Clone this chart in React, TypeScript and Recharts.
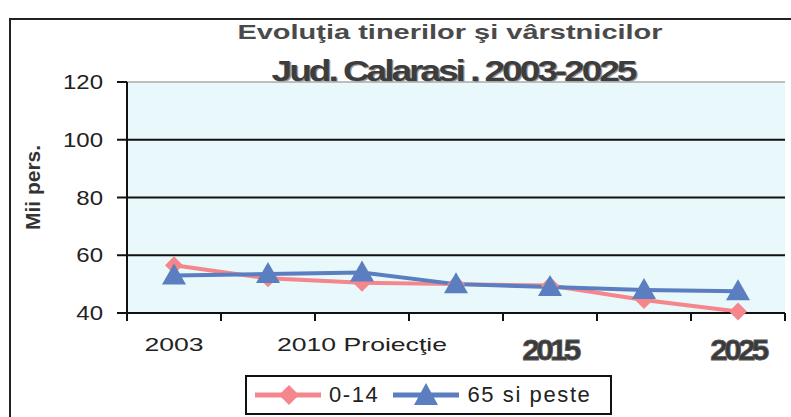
import React from "react";
import {
  LineChart,
  Line,
  XAxis,
  YAxis,
  CartesianGrid,
  Legend,
  ReferenceLine,
} from "recharts";

// tick labels of the x axis (only every other category carries a label)
const categories = ["2003", "", "2010 Proiecţie", "", "2015", "", "2025"];
const boldLabels = ["2015", "2025"];

// thousands of persons
const young = [56.5, 52, 50.5, 50, 49.5, 44.5, 40.5]; // 0-14
const old = [53, 53.5, 54, 50, 49, 48, 47.5]; // 65 si peste

const yTicks = [40, 60, 80, 100, 120];

const data = categories.map((c, i) => ({
  idx: `c${i}`,
  label: c,
  "0-14": young[i],
  "65 si peste": old[i],
}));

const FONT = '"Liberation Sans", Arial, sans-serif';
const PINK = "#f4868c";
const BLUE = "#5b7ec0";

const Diamond = (props: any) => {
  const { cx, cy } = props;
  if (cx == null || cy == null) return null;
  const r = 9;
  return (
    <path
      d={`M${cx},${cy - r} L${cx + r},${cy} L${cx},${cy + r} L${cx - r},${cy} Z`}
      fill={PINK}
    />
  );
};

const Triangle = (props: any) => {
  const { cx, cy } = props;
  if (cx == null || cy == null) return null;
  return (
    <path
      d={`M${cx},${cy - 12} L${cx + 12},${cy + 9} L${cx - 12},${cy + 9} Z`}
      fill={BLUE}
    />
  );
};

const XTick = (props: any) => {
  const { x, y, payload, index, visibleTicksCount } = props;
  const half = payload.offset || 47;
  const label = categories[index] || "";
  const bold = boldLabels.includes(label);
  return (
    <g>
      <line x1={x - half} x2={x - half} y1={y} y2={y + 8} stroke="#111" strokeWidth={2} />
      {index === visibleTicksCount - 1 && (
        <line x1={x + half} x2={x + half} y1={y} y2={y + 8} stroke="#111" strokeWidth={2} />
      )}
      {label && (
        <text
          transform={`translate(${x},${bold ? y + 47 : y + 38}) scale(${bold ? 1.05 : 1.4},1)`}
          textAnchor="middle"
          fontFamily={FONT}
          fontSize={bold ? 30 : 19}
          fontWeight={bold ? "bold" : "normal"}
          letterSpacing={bold ? -3.5 : 0}
          fill={bold ? "#3a3a3a" : "#222"}
          stroke={bold ? "#555" : "none"}
          strokeWidth={bold ? 0.8 : 0}
        >
          {label}
        </text>
      )}
    </g>
  );
};

const YTick = (props: any) => {
  const { x, y, payload } = props;
  return (
    <text
      transform={`translate(${x},${y + 7}) scale(1.2,1)`}
      textAnchor="end"
      fontFamily={FONT}
      fontSize={20}
      fill="#222"
    >
      {payload.value}
    </text>
  );
};

const LegendBox = (props: any) => {
  const { payload } = props;
  return (
    <div
      style={{
        display: "flex",
        alignItems: "center",
        height: 36,
        border: "2px solid #111",
        background: "#fff",
        fontFamily: FONT,
        fontSize: 22,
        color: "#222",
        paddingLeft: 6,
      }}
    >
      {(payload || []).map((p: any) => {
        const isPink = p.value === "0-14";
        return (
          <span key={p.value} style={{ display: "flex", alignItems: "center", marginRight: 12 }}>
            <svg width={70} height={26}>
              <line x1={2} x2={68} y1={13} y2={13} stroke={p.color} strokeWidth={5} />
              {isPink ? (
                <path d="M36,3 L46,13 L36,23 L26,13 Z" fill={p.color} />
              ) : (
                <path d="M35,1 L47,23 L23,23 Z" fill={p.color} />
              )}
            </svg>
            <span style={{ marginLeft: 6, letterSpacing: 1.6 }}>{p.value}</span>
          </span>
        );
      })}
    </div>
  );
};

export default function App() {
  return (
    <div
      style={{
        position: "absolute",
        left: 0,
        top: 0,
        width: 791,
        height: 417,
        overflow: "hidden",
        background: "#fff",
        fontFamily: FONT,
      }}
    >
      <div
        style={{
          position: "absolute",
          left: 9,
          top: 18,
          width: 820,
          height: 440,
          border: "2px solid #222",
        }}
      />
      <div
        style={{
          position: "absolute",
          left: 0,
          width: 900,
          top: 20,
          textAlign: "center",
          fontSize: 21,
          fontWeight: "bold",
          color: "#4a4a4a",
          transform: "scaleX(1.38)",
          transformOrigin: "450px 0",
        }}
      >
        Evoluţia tinerilor şi vârstnicilor
      </div>
      <div
        style={{
          position: "absolute",
          left: 0,
          width: 906,
          top: 55,
          textAlign: "center",
          fontSize: 29,
          fontWeight: "bold",
          letterSpacing: -2.4,
          color: "#3d3d3d",
          textShadow: "1px 1px 0 #999",
          transform: "scaleX(1.28)",
          transformOrigin: "453px 0",
        }}
      >
        Jud. Calarasi , 2003-2025
      </div>
      <div style={{ position: "absolute", left: 0, top: 0 }}>
        <LineChart
          width={791}
          height={417}
          data={data}
          margin={{ top: 82, right: 6, left: 0, bottom: 2 }}
        >
          <CartesianGrid
            vertical={false}
            horizontalValues={[60, 80, 100]}
            stroke="#111"
            strokeWidth={2}
            fill="#e9f8fb"
            fillOpacity={1}
          />
          <ReferenceLine y={120} stroke="#aaa" strokeWidth={1.5} />
          <XAxis
            dataKey="idx"
            scale="band"
            height={62}
            interval={0}
            tickSize={0}
            tickMargin={0}
            tickLine={false}
            axisLine={{ stroke: "#111", strokeWidth: 2 }}
            tick={<XTick />}
          />
          <YAxis
            width={127}
            domain={[40, 120]}
            ticks={yTicks}
            interval={0}
            tickSize={10}
            tickMargin={14}
            axisLine={{ stroke: "#111", strokeWidth: 2 }}
            tickLine={{ stroke: "#111", strokeWidth: 2 }}
            tick={<YTick />}
            label={{
              value: "Mii pers.",
              angle: -90,
              position: "insideLeft",
              offset: 33,
              dy: -10,
              style: {
                textAnchor: "middle",
                fontSize: 21,
                fontWeight: "bold",
                fill: "#333",
                fontFamily: FONT,
              },
            }}
          />
          <Legend
            verticalAlign="bottom"
            content={<LegendBox />}
            wrapperStyle={{ left: 245, width: 367 }}
          />
          <Line
            dataKey="0-14"
            stroke={PINK}
            strokeWidth={4}
            dot={<Diamond />}
            activeDot={false}
            isAnimationActive={false}
          />
          <Line
            dataKey="65 si peste"
            stroke={BLUE}
            strokeWidth={4}
            dot={<Triangle />}
            activeDot={false}
            isAnimationActive={false}
          />
        </LineChart>
      </div>
    </div>
  );
}
